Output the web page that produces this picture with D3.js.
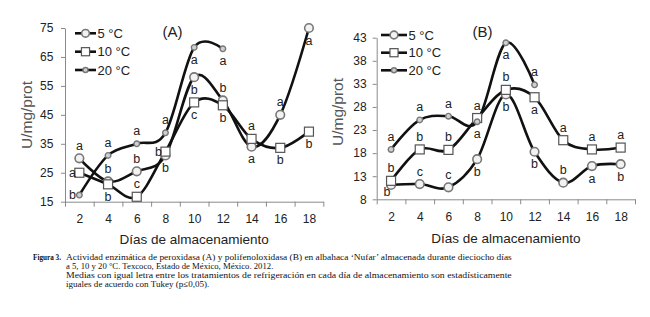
<!DOCTYPE html>
<html>
<head>
<meta charset="utf-8">
<script src="https://cdn.jsdelivr.net/npm/d3@7"></script>
<style>
  body { margin: 0; background: #fff; }
  text { font-family: "Liberation Sans", Arial, sans-serif; }
  .cap { font-family: "Liberation Serif", "Times New Roman", serif; font-size: 9px; fill: #111; }
</style>
</head>
<body>
<div id="chart"></div>
<script>
// Data

var days = [2, 4, 6, 8, 10, 12, 14, 16, 18];
var series = ["5 °C", "10 °C", "20 °C"];

// (A) peroxidasa
var peroxA5 = [30, 22, 25.5, 31, 58, 50, 34, 45, 75];
var peroxA10 = [25, 21, 16.7, 32.3, 49.3, 48.3, 36.7, 33.6, 39.2];
var peroxA20 = [17.3, 31, 35, 38.8, 68.3, 67.8];
var lettersA5 = ["a", "b", "b", "b", "b", "b", "a", "a", "a"];
var lettersA10 = ["a", "b", "c", "b", "c", "b", "a", "b", "b"];
var lettersA20 = ["b", "a", "a", "a", "a", "a"];
// where the letter sits: t = above, b = below, l = left
var placeA5 = ["t", "t", "t", "b", "b", "t", "b", "t", "b"];
var placeA10 = ["l", "b", "t", "l", "b", "b", "t", "b", "b"];
var placeA20 = ["l", "t", "t", "t", "b", "b"];
var ticksA = [15, 25, 35, 45, 55, 65, 75];

// (B) polifenoloxidasa
var polifB5 = [11.1, 11.3, 10.6, 16.7, 30.7, 18.3, 11.6, 15.2, 15.6];
var polifB10 = [12.0, 18.8, 18.7, 25.6, 31.7, 30.1, 20.8, 18.8, 19.2];
var polifB20 = [18.8, 25.2, 26.0, 24.8, 41.9, 32.8];
var lettersB5 = ["b", "c", "c", "b", "b", "b", "b", "a", "b"];
var lettersB10 = ["b", "b", "b", "a", "b", "a", "a", "a", "a"];
var lettersB20 = ["a", "a", "a", "a", "a", "a"];
var placeB5 = ["bl", "t", "t", "b", "b", "b", "t", "b", "b"];
var placeB10 = ["t", "t", "t", "t", "t", "b", "t", "t", "t"];
var placeB20 = ["t", "t", "t", "b", "b", "t"];
var ticksB = [8, 13, 18, 23, 28, 33, 38, 43];

var captionLines = [
  "Actividad enzimática de peroxidasa (A) y polifenoloxidasa (B) en albahaca ‘Nufar’ almacenada durante dieciocho días",
  "a 5, 10 y 20 °C. Texcoco, Estado de México, México. 2012.",
  "Medias con igual letra entre los tratamientos de refrigeración en cada día de almacenamiento son estadísticamente",
  "iguales de acuerdo con Tukey (p≤0,05)."
];

var w = 650;
var h = 317;

var svg = d3.select("#chart")
  .append("svg")
    .attr("width", w)
    .attr("height", h);

svg.append("rect")
  .attr("width", w)
  .attr("height", h)
  .attr("fill", "#fff");

var panels = [
  {title: "(A)", vals: [peroxA5, peroxA10, peroxA20], letters: [lettersA5, lettersA10, lettersA20],
   place: [placeA5, placeA10, placeA20], ticks: ticksA,
   x0: 65, x1: 323.3, yTop: 28, yBot: 201.7, titleX: 172.5, labX: 27, labY: 115,
   legX0: 75, legX1: 96, legY: [33.3, 51.7, 70], xTitleY: 244, tickPad: 7.7},
  {title: "(B)", vals: [polifB5, polifB10, polifB20], letters: [lettersB5, lettersB10, lettersB20],
   place: [placeB5, placeB10, placeB20], ticks: ticksB,
   x0: 376.7, x1: 635, yTop: 37.7, yBot: 199.3, titleX: 482.5, labX: 338, labY: 112,
   legX0: 381, legX1: 407, legY: [35, 52.7, 70.3], xTitleY: 242.7, tickPad: 6}
];

// marker for each series
function marker(sel, k, big) {
  var s = big ? 1 : 0.9;
  if (k == 0) {
    sel.append("circle").attr("r", 4.3 * s)
      .attr("fill", "#f2f2f2").attr("stroke", "#777").attr("stroke-width", 1.6);
  } else if (k == 1) {
    sel.append("rect").attr("x", -4.5 * s).attr("y", -4.5 * s)
      .attr("width", 9 * s).attr("height", 9 * s)
      .attr("fill", "#fff").attr("stroke", "#555").attr("stroke-width", 1.2);
  } else {
    sel.append("circle").attr("r", 2.8 * s)
      .attr("fill", "#d0d0d0").attr("stroke", "#777").attr("stroke-width", 1.4);
  }
}

panels.forEach(function(p) {
  var g = svg.append("g");

  var xScale = d3.scaleLinear()
    .domain([1, 19])
    .range([p.x0, p.x1]);

  var yScale = d3.scaleLinear()
    .domain([p.ticks[0], p.ticks[p.ticks.length - 1]])
    .range([p.yBot, p.yTop]);

  // y axis
  var yAx = g.append("g")
    .attr("transform", `translate(${p.x0},0)`)
    .call(d3.axisLeft(yScale).tickValues(p.ticks).tickSize(4).tickSizeOuter(0).tickPadding(p.tickPad));
  yAx.select(".domain").attr("stroke", "#8a8a8a");
  yAx.selectAll(".tick line").attr("stroke", "#8a8a8a");
  yAx.selectAll("text").attr("font-size", "12px").attr("fill", "#222")
    .attr("font-family", "Liberation Sans, Arial, sans-serif");

  // x axis: ticks between days, labels on days
  var xAx = g.append("g")
    .attr("transform", `translate(0,${p.yBot})`)
    .call(d3.axisBottom(xScale).tickValues(d3.range(1, 20, 2)).tickSize(5).tickSizeOuter(0).tickFormat(""));
  xAx.select(".domain").attr("stroke", "#8a8a8a");
  xAx.selectAll(".tick line").attr("stroke", "#8a8a8a");

  var xLab = g.append("g")
    .attr("transform", `translate(0,${p.yBot})`)
    .call(d3.axisBottom(xScale).tickValues(days).tickSize(0).tickPadding(13));
  xLab.select(".domain").remove();
  xLab.selectAll("text").attr("font-size", "12px").attr("fill", "#222")
    .attr("font-family", "Liberation Sans, Arial, sans-serif");

  // axis titles
  g.append("text")
    .attr("x", (p.x0 + p.x1) / 2)
    .attr("y", p.xTitleY)
    .attr("text-anchor", "middle")
    .attr("font-size", "13.5px")
    .attr("fill", "#222")
    .text("Días de almacenamiento");

  g.append("text")
    .attr("transform", `translate(${p.labX},${p.labY}) rotate(-90)`)
    .attr("text-anchor", "middle")
    .attr("dy", "0.35em")
    .attr("font-size", "15.5px")
    .attr("fill", "#555")
    .text("U/mg/prot");

  g.append("text")
    .attr("x", p.titleX)
    .attr("y", 36.7)
    .attr("text-anchor", "middle")
    .attr("font-size", "15px")
    .attr("fill", "#222")
    .text(p.title);

  // lines
  var line = d3.line()
    .x((d, i) => xScale(days[i]))
    .y(d => yScale(d))
    .curve(d3.curveCardinal.tension(0));

  p.vals.forEach(function(v, k) {
    g.append("path")
      .attr("d", line(v))
      .attr("fill", "none")
      .attr("stroke", "#111")
      .attr("stroke-width", 2.6);
  });

  // markers and letters
  p.vals.forEach(function(v, k) {
    var pts = g.selectAll(null)
      .data(v)
      .enter()
      .append("g")
      .attr("transform", (d, i) => `translate(${xScale(days[i])},${yScale(d)})`);
    pts.each(function() { marker(d3.select(this), k, true); });

    pts.append("text")
      .attr("font-size", "12.5px")
      .attr("fill", "#222")
      .attr("text-anchor", (d, i) => p.place[k][i] == "l" ? "end" : "middle")
      .attr("x", (d, i) => p.place[k][i] == "l" ? -3.5 : (p.place[k][i] == "bl" ? -4 : 0))
      .attr("y", function(d, i) {
        var pl = p.place[k][i];
        if (pl == "t") return -8.5;
        if (pl == "b") return 16.5;
        if (pl == "bl") return 11.5;
        return 4;
      })
      .text((d, i) => p.letters[k][i]);
  });

  // legend
  series.forEach(function(s, k) {
    var lg = g.append("g").attr("transform", `translate(0,${p.legY[k]})`);
    lg.append("line")
      .attr("x1", p.legX0).attr("x2", p.legX1)
      .attr("stroke", "#111").attr("stroke-width", 2.6);
    var m = lg.append("g").attr("transform", `translate(${(p.legX0 + p.legX1) / 2},0)`);
    marker(m, k, false);
    lg.append("text")
      .attr("x", p.legX1 + 1.5)
      .attr("y", 4.5)
      .attr("font-size", "13px")
      .attr("fill", "#222")
      .text(s);
  });
});

// caption
var capWidths = [445.7, 207.3, 445.7, 143.3];
var capY = [259.5, 268.5, 277.5, 286.5];

svg.append("text")
  .attr("class", "cap")
  .attr("x", 33)
  .attr("y", capY[0])
  .attr("font-weight", "bold")
  .attr("textLength", 28)
  .attr("lengthAdjust", "spacingAndGlyphs")
  .text("Figura 3.");

svg.selectAll("text.capline")
  .data(captionLines)
  .enter()
  .append("text")
  .attr("class", "cap capline")
  .attr("x", 66)
  .attr("y", (d, i) => capY[i])
  .attr("textLength", (d, i) => capWidths[i])
  .attr("lengthAdjust", "spacingAndGlyphs")
  .text(d => d);
</script>
</body>
</html>
